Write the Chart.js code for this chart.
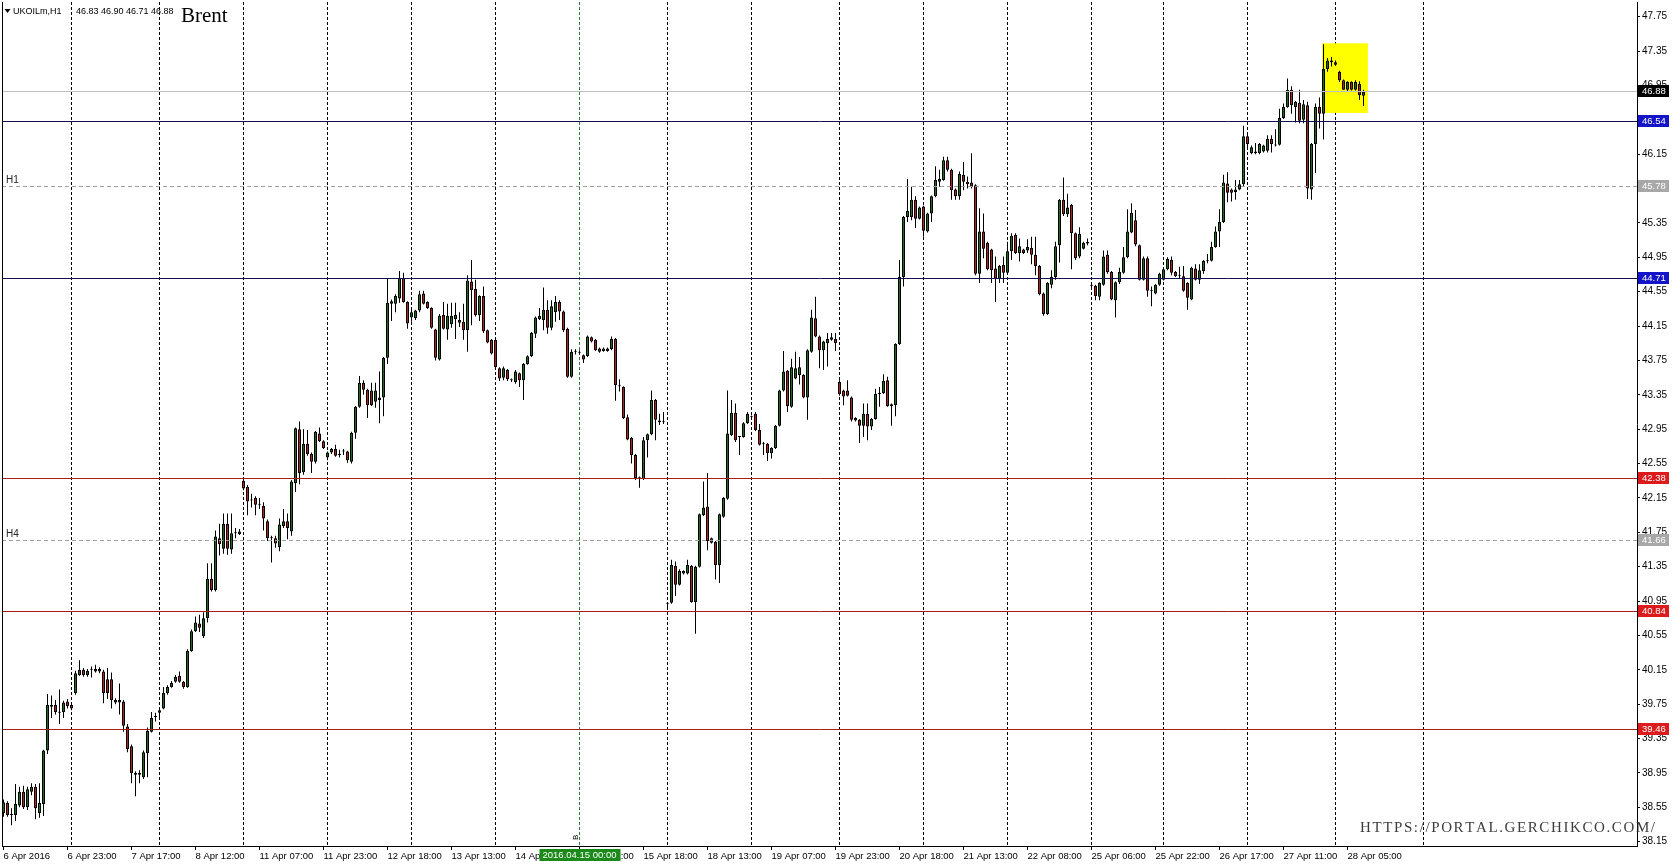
<!DOCTYPE html>
<html>
<head>
<meta charset="utf-8">
<title>Brent H1</title>
<script src="https://cdn.jsdelivr.net/npm/chart.js@4.4.1/dist/chart.umd.min.js"></script>
<style>
  html, body { margin: 0; padding: 0; background: #fff; }
  #wrap { width: 1676px; height: 867px; position: relative; }
</style>
</head>
<body>
<div id="wrap"><canvas id="price-chart"></canvas></div>
<script>
// UKOILm H1, 6 Apr - 28 Apr 2016, one entry per hourly bar
const opens = [
  38.48,38.60,38.46,38.46,38.57,38.73,38.55,38.73,38.79,38.48,
  38.59,39.21,39.72,39.74,39.66,39.66,39.78,39.74,39.88,40.09,
  40.15,40.09,40.15,40.13,40.16,40.13,40.04,40.04,39.80,39.77,
  39.78,39.49,39.26,38.95,38.93,38.90,39.18,39.43,39.60,39.65,
  39.70,39.88,39.95,40.01,40.08,40.01,39.95,40.37,40.60,40.69,
  40.54,40.75,41.21,41.08,41.68,41.56,41.85,41.55,41.74,41.73,
  42.35,42.28,42.13,42.15,42.07,42.06,41.88,41.68,41.68,41.58,
  41.82,41.88,41.76,42.32,42.95,42.45,42.78,42.66,42.57,42.90,
  42.81,42.62,42.68,42.72,42.65,42.69,42.69,42.57,42.91,43.21,
  43.49,43.41,43.40,43.27,43.32,43.32,43.78,44.41,44.41,44.47,
  44.71,44.43,44.25,44.24,44.33,44.53,44.43,44.36,44.11,43.76,
  44.28,44.11,44.17,44.23,44.22,44.20,44.10,44.67,44.58,44.28,
  44.50,44.10,43.99,43.99,43.66,43.55,43.64,43.53,43.50,43.60,
  43.52,43.71,43.80,44.06,44.23,44.22,44.34,44.13,44.31,44.43,
  44.32,44.12,43.56,43.85,43.84,43.81,43.80,44.02,43.99,43.89,
  43.86,43.86,43.88,44.00,43.46,43.44,43.09,42.85,42.65,42.38,
  42.37,42.82,42.89,43.29,43.05,43.03,40.93,40.93,41.36,41.14,
  41.27,41.27,41.36,40.94,41.35,41.95,42.05,41.68,41.64,41.37,
  41.93,42.14,42.88,43.14,42.86,42.86,43.02,43.09,43.13,42.94,
  42.79,42.78,42.67,42.73,42.99,43.40,43.63,43.21,43.54,43.58,
  43.58,43.32,43.85,44.24,44.03,43.87,43.95,43.99,44.00,43.50,
  43.40,43.40,43.32,43.08,43.06,42.99,43.13,42.98,43.07,43.36,
  43.37,43.52,43.24,43.23,43.94,44.72,45.42,45.42,45.62,45.40,
  45.54,45.25,45.46,45.66,45.83,45.85,46.08,45.97,45.74,45.66,
  45.91,45.83,45.82,45.79,44.76,45.25,45.12,45.04,44.82,44.70,
  44.86,44.77,45.02,45.21,45.00,45.04,45.03,45.06,44.98,44.85,
  44.53,44.29,44.63,44.72,45.09,45.62,45.45,45.56,45.23,44.96,
  45.05,45.13,44.63,44.62,44.49,44.63,44.98,44.78,44.45,44.66,
  44.77,44.95,45.24,45.38,45.09,44.69,44.94,44.56,44.53,44.63,
  44.69,44.81,44.92,44.78,44.73,44.73,44.65,44.46,44.82,44.69,
  44.79,44.91,44.91,45.07,45.25,45.36,45.81,45.74,45.71,45.74,
  45.80,46.36,46.16,46.16,46.16,46.18,46.19,46.33,46.26,46.26,
  46.57,46.70,46.90,46.70,46.75,46.55,46.72,45.74,46.27,46.70,
  46.62,47.14,47.22,47.22,47.11,47.01,46.90,46.99,46.90,46.97,46.83
];
const highs = [
  38.64,38.62,38.54,38.82,38.79,38.80,38.79,38.83,38.82,38.83,
  39.22,39.87,39.85,39.80,39.92,39.79,39.81,39.76,40.14,40.26,
  40.17,40.16,40.19,40.21,40.18,40.15,40.17,40.12,39.82,39.99,
  39.80,39.52,39.28,38.97,38.98,39.21,39.48,39.66,39.65,39.71,
  39.95,39.97,40.02,40.09,40.13,40.02,40.39,40.62,40.77,40.79,
  40.82,41.39,41.39,41.77,41.85,41.97,41.97,41.97,41.80,41.79,
  42.37,42.30,42.20,42.17,42.15,42.10,41.90,41.71,41.71,41.91,
  42.02,41.97,42.36,42.97,43.04,42.95,42.94,42.68,42.93,42.97,
  42.82,42.69,42.73,42.77,42.71,42.72,42.70,42.92,43.22,43.57,
  43.52,43.42,43.49,43.49,43.62,43.79,44.71,44.46,44.52,44.79,
  44.77,44.44,44.36,44.34,44.56,44.56,44.44,44.37,44.12,44.29,
  44.43,44.41,44.42,44.42,44.31,44.41,44.74,44.92,44.69,44.51,
  44.61,44.11,44.00,44.00,43.67,43.68,43.65,43.54,43.64,43.61,
  43.72,43.81,44.08,44.26,44.36,44.60,44.45,44.45,44.50,44.45,
  44.33,44.13,43.88,43.88,43.87,43.82,44.04,44.03,44.00,43.90,
  43.90,43.90,44.03,44.01,43.53,43.45,43.12,42.86,42.66,42.40,
  42.86,42.90,43.40,43.30,43.13,43.15,40.94,41.43,41.41,41.32,
  41.31,41.43,41.37,41.36,41.97,42.34,42.44,41.69,41.65,41.97,
  42.16,43.40,43.29,43.25,42.87,43.03,43.15,43.11,43.15,43.01,
  42.80,42.79,42.74,43.00,43.41,43.86,43.64,43.77,43.85,43.79,
  43.59,43.88,44.34,44.49,44.04,43.98,44.07,44.07,44.07,43.52,
  43.41,43.52,43.33,43.09,43.07,43.25,43.25,43.08,43.42,43.44,
  43.59,43.56,43.25,43.95,44.92,45.43,45.86,45.77,45.66,45.54,
  45.55,45.47,45.67,46.01,45.97,46.12,46.12,45.98,45.75,45.95,
  46.06,45.89,46.16,45.80,45.52,45.46,45.13,45.05,44.96,44.86,
  44.96,45.13,45.23,45.23,45.17,45.05,45.16,45.19,45.19,44.86,
  44.54,44.66,44.80,45.13,45.63,45.88,45.69,45.57,45.24,45.30,
  45.13,45.17,44.64,44.63,44.66,45.03,45.03,44.79,44.67,44.83,
  45.07,45.51,45.58,45.50,45.10,44.96,44.96,44.61,44.64,44.77,
  44.82,44.95,44.96,44.79,44.84,44.85,44.66,44.84,44.87,44.87,
  44.92,44.99,45.13,45.31,45.51,45.91,45.94,45.75,45.85,45.85,
  46.48,46.39,46.25,46.28,46.28,46.26,46.37,46.37,46.44,46.68,
  46.74,47.03,46.94,46.77,46.90,46.78,46.76,46.28,46.74,46.81,
  47.43,47.27,47.28,47.24,47.12,47.02,47.00,47.00,47.01,47.00,46.90
];
const lows = [
  38.44,38.44,38.34,38.39,38.55,38.53,38.52,38.69,38.41,38.43,
  38.45,39.17,39.59,39.63,39.52,39.59,39.70,39.68,39.86,40.08,
  40.07,40.07,40.06,40.12,40.11,39.76,39.81,39.70,39.75,39.63,
  39.43,39.19,38.83,38.68,38.83,38.88,38.90,39.42,39.55,39.59,
  39.69,39.86,39.94,40.00,40.00,39.93,39.94,40.36,40.59,40.59,
  40.52,40.70,41.06,41.06,41.48,41.50,41.49,41.50,41.68,41.72,
  42.24,41.95,42.04,41.95,42.02,41.77,41.65,41.40,41.57,41.53,
  41.80,41.67,41.71,42.22,42.31,42.42,42.64,42.44,42.55,42.80,
  42.72,42.59,42.66,42.63,42.62,42.65,42.56,42.55,42.84,43.20,
  43.35,43.08,43.22,43.20,43.02,43.10,43.71,44.21,44.31,44.42,
  44.42,44.12,44.20,44.22,44.31,44.40,44.35,44.12,43.75,43.75,
  44.11,43.99,44.13,44.00,44.14,43.99,43.85,44.16,44.26,44.21,
  44.07,43.95,43.82,43.66,43.51,43.52,43.51,43.50,43.48,43.44,
  43.29,43.70,43.79,44.01,44.22,44.10,44.06,44.10,44.20,44.22,
  44.08,43.55,43.55,43.82,43.82,43.72,43.79,43.96,43.86,43.84,
  43.85,43.85,43.87,43.28,43.39,43.07,42.82,42.55,42.36,42.27,
  42.36,42.62,42.88,42.82,43.00,43.01,40.85,40.92,41.01,41.13,
  41.26,41.26,40.93,40.57,41.34,41.94,41.54,41.62,41.20,41.16,
  41.92,42.13,42.87,42.80,42.65,42.85,43.01,43.07,42.93,42.76,
  42.65,42.58,42.61,42.72,42.98,43.39,43.15,43.20,43.53,43.47,
  43.31,43.06,43.84,44.02,43.66,43.64,43.68,43.98,43.86,43.34,
  43.23,43.33,43.04,43.04,42.79,42.86,42.82,42.94,43.06,43.21,
  43.36,43.21,42.99,43.10,43.93,44.61,45.36,45.38,45.29,45.39,
  45.19,45.24,45.36,45.65,45.77,45.84,45.95,45.62,45.62,45.62,
  45.73,45.75,45.75,44.74,44.65,44.94,44.80,44.65,44.43,44.65,
  44.65,44.76,44.92,44.99,44.90,44.99,45.00,44.87,44.74,44.51,
  44.27,44.28,44.59,44.69,44.89,45.43,45.42,44.81,44.92,44.94,
  45.04,45.09,44.60,44.45,44.45,44.62,44.76,44.45,44.25,44.64,
  44.76,44.94,45.23,45.08,44.68,44.68,44.49,44.38,44.52,44.62,
  44.68,44.80,44.74,44.72,44.71,44.55,44.34,44.45,44.68,44.64,
  44.76,44.88,44.90,45.06,45.07,45.35,45.59,45.60,45.62,45.73,
  45.77,46.23,46.15,46.15,46.15,46.17,46.17,46.17,46.24,46.25,
  46.56,46.69,46.62,46.52,46.51,46.51,45.63,45.62,45.93,46.45,
  46.32,47.11,47.17,47.18,46.99,46.90,46.88,46.89,46.89,46.78,46.71
];
const closes = [
  38.61,38.46,38.47,38.59,38.73,38.55,38.76,38.79,38.54,38.60,
  39.21,39.74,39.74,39.66,39.65,39.77,39.73,39.70,40.11,40.15,
  40.09,40.14,40.16,40.16,40.13,39.88,39.88,39.80,39.77,39.80,
  39.50,39.23,38.95,38.93,38.95,39.19,39.44,39.59,39.61,39.68,
  39.88,39.95,40.00,40.07,40.01,39.95,40.37,40.60,40.70,40.64,
  40.75,41.21,41.08,41.70,41.61,41.85,41.56,41.74,41.74,41.76,
  42.26,42.11,42.12,42.07,42.08,41.91,41.68,41.69,41.62,41.84,
  41.88,41.80,42.34,42.96,42.44,42.78,42.66,42.57,42.92,42.81,
  42.73,42.68,42.72,42.64,42.66,42.69,42.59,42.91,43.21,43.49,
  43.41,43.23,43.23,43.40,43.29,43.78,44.42,44.44,44.50,44.71,
  44.43,44.18,44.31,44.33,44.52,44.41,44.36,44.13,43.78,44.27,
  44.12,44.27,44.27,44.28,44.19,44.10,44.68,44.57,44.28,44.50,
  44.09,43.96,43.83,43.67,43.54,43.66,43.53,43.52,43.62,43.52,
  43.71,43.80,44.07,44.25,44.27,44.34,44.13,44.38,44.43,44.32,
  44.10,43.56,43.85,43.85,43.84,43.76,44.03,43.97,43.87,43.85,
  43.89,43.89,44.00,43.46,43.45,43.08,42.83,42.65,42.38,42.38,
  42.82,42.89,43.29,43.06,43.03,43.03,40.92,41.37,41.14,41.30,
  41.30,41.37,40.94,41.35,41.96,42.04,41.65,41.63,41.37,41.96,
  42.15,42.90,43.14,42.82,42.86,43.02,43.13,43.09,42.94,42.77,
  42.78,42.67,42.73,42.99,43.40,43.62,43.22,43.67,43.66,43.67,
  43.32,43.87,44.25,44.03,43.87,43.97,44.00,44.02,43.95,43.36,
  43.33,43.34,43.06,43.05,42.99,43.13,42.98,43.07,43.36,43.37,
  43.51,43.22,43.22,43.94,44.72,45.42,45.49,45.62,45.40,45.53,
  45.26,45.46,45.66,45.85,45.86,46.08,45.97,45.73,45.66,45.92,
  45.83,45.80,45.77,44.76,45.25,45.05,44.81,44.80,44.70,44.85,
  44.77,45.02,45.20,45.00,45.08,45.00,45.07,44.98,44.85,44.52,
  44.29,44.65,44.72,45.08,45.62,45.45,45.53,45.23,44.94,45.22,
  45.12,45.11,44.62,44.50,44.65,44.96,44.78,44.46,44.66,44.78,
  44.95,45.25,45.47,45.10,44.69,44.94,44.56,44.56,44.63,44.76,
  44.81,44.93,44.77,44.73,44.73,44.56,44.48,44.83,44.69,44.80,
  44.91,44.91,45.07,45.25,45.36,45.82,45.70,45.70,45.74,45.80,
  46.36,46.27,46.23,46.18,46.27,46.25,46.33,46.27,46.25,46.57,
  46.70,46.90,46.72,46.76,46.54,46.73,45.75,46.27,46.70,46.62,
  47.14,47.24,47.24,47.19,47.01,46.90,46.99,46.90,46.99,46.84,46.88
];

// time axis labels (bar index -> text)
const tickBars = [0,16,32,48,64,80,96,112,128,144,160,176,192,208,224,240,256,272,288,304,320,336];
const tickLabels = ['6 Apr 2016','6 Apr 23:00','7 Apr 17:00','8 Apr 12:00','11 Apr 07:00','11 Apr 23:00',
  '12 Apr 18:00','13 Apr 13:00','14 Apr 08:00','15 Apr 02:00','15 Apr 18:00','18 Apr 13:00','19 Apr 07:00',
  '19 Apr 23:00','20 Apr 18:00','21 Apr 13:00','22 Apr 08:00','25 Apr 06:00','25 Apr 22:00','26 Apr 17:00',
  '27 Apr 11:00','28 Apr 05:00'];
// first bar of each trading day (vertical grid)
const dayStarts = [17,39,60,81,102,123,144,166,187,209,230,251,272,290,311,333,355];
const priceTicks = [38.15,38.55,38.95,39.35,39.75,40.15,40.55,40.95,41.35,41.75,42.15,42.55,42.95,
  43.35,43.75,44.15,44.55,44.95,45.35,45.75,46.15,46.55,46.95,47.35,47.75];

// drawn objects
const blueLevels = [46.54, 44.71];
const redLevels = [42.38, 40.84, 39.46];
const tfLevels = [45.78, 41.66];
const tfNames = ['H1', 'H4'];
const markBar = 144;
const markLabel = '2016.04.15 00:00';
const boxBars = [329.6, 341.1];
const boxPrices = [47.44, 46.63];

const FONT = "'Liberation Sans', Arial, sans-serif";
const last = closes.length - 1;

const overlay = {
    id: 'overlay',
    beforeDatasetsDraw(chart) {
        const {ctx, scales: {x, y}} = chart;
        ctx.save();
        const x1 = x.getPixelForValue(boxBars[0]), x2 = x.getPixelForValue(boxBars[1]);
        const y1 = y.getPixelForValue(boxPrices[0]), y2 = y.getPixelForValue(boxPrices[1]);
        ctx.fillStyle = '#ffff00';
        ctx.fillRect(x1, y1, x2 - x1, y2 - y1);
        ctx.restore();
    },
    afterDatasetsDraw(chart) {
        const {ctx, chartArea: a, scales: {y}} = chart;
        const hline = (v, color, dash) => {
            const py = Math.round(y.getPixelForValue(v)) + 0.5;
            ctx.strokeStyle = color;
            ctx.lineWidth = 1;
            ctx.setLineDash(dash);
            ctx.beginPath();
            ctx.moveTo(a.left, py);
            ctx.lineTo(a.right, py);
            ctx.stroke();
        };
        ctx.save();
        hline(closes[last], '#c0c0c0', []);
        blueLevels.forEach(v => hline(v, '#12124a', []));
        redLevels.forEach(v => hline(v, '#a41c1c', []));
        tfLevels.forEach(v => hline(v, '#a0a0a0', [4, 3]));
        ctx.restore();
    },
    afterDraw(chart) {
        const {ctx, chartArea: a, scales: {x, y}} = chart;
        ctx.save();
        // left border
        ctx.fillStyle = '#000';
        ctx.fillRect(a.left, a.top, 1, a.bottom - a.top);

        // price tags on the axis
        const tag = (v, bg) => {
            const py = Math.round(y.getPixelForValue(v));
            ctx.fillStyle = bg;
            ctx.fillRect(a.right + 1, py - 6, 31, 12);
            ctx.fillStyle = '#fff';
            ctx.font = '9.5px ' + FONT;
            ctx.textBaseline = 'middle';
            ctx.textAlign = 'left';
            ctx.fillText(v.toFixed(2), a.right + 5, py + 0.5);
        };
        tag(closes[last], '#000000');
        blueLevels.forEach(v => tag(v, '#1414c8'));
        redLevels.forEach(v => tag(v, '#dc1c1c'));
        tfLevels.forEach(v => tag(v, '#a8a8a8'));

        // timeframe names on the dashed levels
        ctx.fillStyle = '#222';
        ctx.font = '10px ' + FONT;
        ctx.textBaseline = 'middle';
        tfLevels.forEach((v, i) => ctx.fillText(tfNames[i], 6, y.getPixelForValue(v) - 6));

        // header
        ctx.fillStyle = '#000';
        ctx.beginPath();
        ctx.moveTo(4.5, 9); ctx.lineTo(10.5, 9); ctx.lineTo(7.5, 13); ctx.closePath();
        ctx.fill();
        ctx.font = '9px ' + FONT;
        ctx.fillText('UKOILm,H1', 13, 12);
        ctx.fillText([opens[last], highs[last], lows[last], closes[last]].map(v => v.toFixed(2)).join(' '), 76, 12);
        ctx.font = "21px 'Liberation Serif', 'Times New Roman', serif";
        ctx.textBaseline = 'alphabetic';
        ctx.fillText('Brent', 181, 22);

        // vertical line label at the time axis
        const mx = x.getPixelForValue(markBar);
        ctx.fillStyle = '#1b8a1b';
        ctx.fillRect(mx - 40, 849, 81, 12);
        ctx.fillStyle = '#fff';
        ctx.font = '9.5px ' + FONT;
        ctx.textBaseline = 'middle';
        ctx.fillText(markLabel, mx - 37, 855.5);
        ctx.save();
        ctx.translate(mx - 4, 840);
        ctx.rotate(-Math.PI / 2);
        ctx.fillStyle = '#000';
        ctx.font = '8px ' + FONT;
        ctx.fillText('B', 0, 0);
        ctx.restore();

        // watermark
        const wm = 'HTTPS://PORTAL.GERCHIKCO.COM/';
        ctx.font = "15px 'Liberation Serif', serif";
        ctx.fillStyle = '#3c3c3c';
        ctx.textBaseline = 'alphabetic';
        const chars = [...wm];
        const widths = chars.map(c => ctx.measureText(c).width);
        const total = widths.reduce((s, w) => s + w, 0);
        const gap = (295 - total) / (chars.length - 1);
        let px = 1360;
        chars.forEach((c, i) => { ctx.fillText(c, px, 832); px += widths[i] + gap; });
        ctx.restore();
    }
};

document.addEventListener("DOMContentLoaded", function () {

    const idx = closes.map((_, i) => i);

    new Chart(document.getElementById('price-chart'), {
        type: 'bar',
        data: {
            datasets: [{
                label: 'wick',
                data: idx.map(i => ({x: i, y: [lows[i], highs[i]]})),
                backgroundColor: '#000',
                grouped: false,
                categoryPercentage: 1,
                barPercentage: 0.25,
                maxBarThickness: 1,
                xAxisID: 'x',
                order: 2
            }, {
                label: 'body',
                data: idx.map(i => ({x: i, y: [opens[i], closes[i]]})),
                backgroundColor: ctx => closes[ctx.dataIndex] >= opens[ctx.dataIndex] ? '#1f6a1f' : '#b02222',
                borderColor: '#000',
                borderWidth: 1,
                borderSkipped: false,
                grouped: false,
                categoryPercentage: 1,
                barPercentage: 0.75,
                maxBarThickness: 3,
                minBarLength: 1,
                xAxisID: 'x',
                order: 1
            }]
        },
        options: {
            responsive: true,
            maintainAspectRatio: false,
            animation: false,
            devicePixelRatio: 1,
            layout: { padding: { left: 2, top: 2, right: 0, bottom: 0 } },
            plugins: { legend: { display: false }, tooltip: { enabled: false } },
            scales: {
                x: {
                    type: 'linear', position: 'bottom', min: -0.375, max: 408.375, offset: false,
                    afterBuildTicks: ax => { ax.ticks = tickBars.map(v => ({value: v})); },
                    afterFit: ax => { ax.height = 21; ax.paddingLeft = 0; ax.paddingRight = 0; },
                    ticks: {
                        autoSkip: false, maxRotation: 0, minRotation: 0, align: 'start', padding: 1,
                        color: '#000', font: { family: FONT, size: 9.5 },
                        callback: v => tickLabels[tickBars.indexOf(v)] || ''
                    },
                    grid: { drawOnChartArea: false, drawTicks: true, tickLength: 4, color: '#000', offset: false },
                    border: { display: true, color: '#000', width: 1 }
                },
                xg: {
                    type: 'linear', position: 'bottom', min: -0.375, max: 408.375, offset: false,
                    afterBuildTicks: ax => { ax.ticks = dayStarts.map(v => ({value: v})); },
                    afterFit: ax => { ax.height = 0; ax.paddingLeft = 0; ax.paddingRight = 0; },
                    ticks: { display: false },
                    grid: {
                        drawTicks: false, offset: false, lineWidth: 1,
                        color: ctx => (ctx.tick && ctx.tick.value === markBar) ? '#2f7d3a' : '#000'
                    },
                    border: { display: false, dash: [3, 2] }
                },
                y: {
                    type: 'linear', position: 'right', min: 38.10, max: 47.921,
                    afterBuildTicks: ax => { ax.ticks = priceTicks.map(v => ({value: v})); },
                    afterFit: ax => { ax.width = 39; ax.paddingTop = 0; ax.paddingBottom = 0; },
                    ticks: {
                        color: '#000', padding: 2, font: { family: FONT, size: 10 },
                        callback: v => v.toFixed(2)
                    },
                    grid: { drawOnChartArea: false, tickLength: 3, color: '#000' },
                    border: { display: true, color: '#000', width: 1 }
                }
            }
        },
        plugins: [overlay]
    });

});
</script>
</body>
</html>
